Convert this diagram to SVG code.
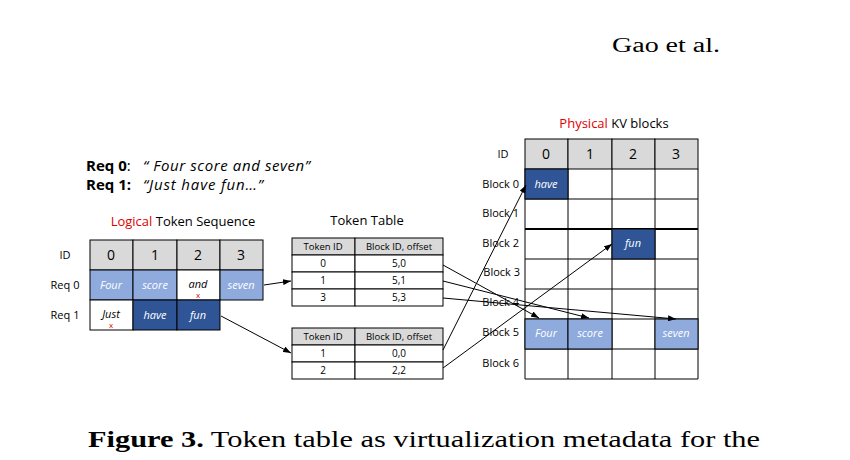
<svg xmlns="http://www.w3.org/2000/svg" width="850" height="460" viewBox="0 0 850 460">
<style>
text{font-family:"Open Sans","DejaVu Sans",sans-serif;fill:#000}
.c{text-anchor:middle}
.s{font-size:11px}.m{font-size:13px}
.it{font-style:italic}
.w{fill:#fff}
.hd{fill:#d9d9d9;stroke:#000;stroke-width:1}
.lb{fill:#8faadc;stroke:#000;stroke-width:1}
.db{fill:#2f5597;stroke:#000;stroke-width:1}
.wc{fill:#fff;stroke:#000;stroke-width:1}
.red{fill:#e00000}
.x{fill:#e00000;font-size:8px;text-anchor:middle}
.ser{font-family:"Liberation Serif","Times New Roman",serif}
.conn line{stroke:#000;stroke-width:1;marker-end:url(#ah)}
</style>
<defs><marker id="ah" markerWidth="8" markerHeight="6" refX="8" refY="3" orient="auto" markerUnits="userSpaceOnUse"><path d="M0,0L8,3L0,6z" fill="#000"/></marker></defs>
<rect width="850" height="460" fill="#fff"/>
<text class="ser" x="612" y="52" font-size="20" textLength="108" lengthAdjust="spacingAndGlyphs">Gao et al.</text>
<g id="title">
<text x="86" y="171" font-size="15" font-weight="bold">Req 0<tspan font-weight="normal">:</tspan></text>
<text x="143" y="171" font-size="15" class="it" textLength="167">“ Four score and seven”</text>
<text x="86" y="190" font-size="15" font-weight="bold">Req 1:</text>
<text x="143" y="190" font-size="15" class="it" textLength="120">“Just have fun…”</text>
</g>
<g id="logical">
<text x="183" y="226" class="c m"><tspan class="red">Logical</tspan> Token Sequence</text>
<text x="65" y="259" class="c s">ID</text>
<text x="65" y="289" class="c s">Req 0</text>
<text x="65" y="319" class="c s">Req 1</text>
<rect class="hd" x="90" y="240" width="43" height="30"/><rect class="hd" x="133" y="240" width="44" height="30"/><rect class="hd" x="177" y="240" width="43" height="30"/><rect class="hd" x="220" y="240" width="43" height="30"/>
<text x="111" y="260" class="c" font-size="14">0</text><text x="155" y="260" class="c" font-size="14">1</text><text x="198" y="260" class="c" font-size="14">2</text><text x="241" y="260" class="c" font-size="14">3</text>
<rect class="lb" x="90" y="270" width="43" height="30"/><rect class="lb" x="133" y="270" width="44" height="30"/><rect class="wc" x="177" y="270" width="43" height="30"/><rect class="lb" x="220" y="270" width="43" height="30"/>
<text x="111" y="289" class="c s it w">Four</text><text x="155" y="289" class="c s it w">score</text><text x="198" y="288" class="c s it">and</text><text x="198" y="298" class="x">x</text><text x="241" y="289" class="c s it w">seven</text>
<rect class="wc" x="90" y="300" width="43" height="30"/><rect class="db" x="133" y="300" width="44" height="30"/><rect class="db" x="177" y="300" width="43" height="30"/>
<text x="111" y="318" class="c s it">Just</text><text x="111" y="328" class="x">x</text><text x="155" y="319" class="c s it w">have</text><text x="198" y="319" class="c s it w">fun</text>
</g>
<g id="tokentable">
<text x="367" y="225" class="c m">Token Table</text>
<rect class="hd" x="292" y="238" width="63" height="17"/><rect class="hd" x="355" y="238" width="88" height="17"/>
<text x="323" y="250" class="c" font-size="9.5">Token ID</text><text x="399" y="250" class="c" font-size="9.5">Block ID, offset</text>
<rect class="wc" x="292" y="255" width="63" height="17"/><rect class="wc" x="355" y="255" width="88" height="17"/>
<rect class="wc" x="292" y="272" width="63" height="17"/><rect class="wc" x="355" y="272" width="88" height="17"/>
<rect class="wc" x="292" y="289" width="63" height="17"/><rect class="wc" x="355" y="289" width="88" height="17"/>
<text x="323" y="267" class="c" font-size="10">0</text><text x="399" y="267" class="c" font-size="10">5,0</text>
<text x="323" y="284" class="c" font-size="10">1</text><text x="399" y="284" class="c" font-size="10">5,1</text>
<text x="323" y="301" class="c" font-size="10">3</text><text x="399" y="301" class="c" font-size="10">5,3</text>
</g>
<g id="tokentable2">
<rect class="hd" x="292" y="328" width="63" height="17"/><rect class="hd" x="355" y="328" width="88" height="17"/>
<text x="323" y="340" class="c" font-size="9.5">Token ID</text><text x="399" y="340" class="c" font-size="9.5">Block ID, offset</text>
<rect class="wc" x="292" y="345" width="63" height="17"/><rect class="wc" x="355" y="345" width="88" height="17"/>
<rect class="wc" x="292" y="362" width="63" height="17"/><rect class="wc" x="355" y="362" width="88" height="17"/>
<text x="323" y="357" class="c" font-size="10">1</text><text x="399" y="357" class="c" font-size="10">0,0</text>
<text x="323" y="374" class="c" font-size="10">2</text><text x="399" y="374" class="c" font-size="10">2,2</text>
</g>
<g id="physical">
<text x="614" y="128" class="c m"><tspan class="red">Physical</tspan> KV blocks</text>
<text x="503" y="158" class="c s">ID</text>
<rect class="hd" x="525" y="139" width="43" height="30"/><rect class="hd" x="568" y="139" width="44" height="30"/><rect class="hd" x="612" y="139" width="43" height="30"/><rect class="hd" x="655" y="139" width="43" height="30"/>
<path d="M525,169V379H698V169M568,169V379M612,169V379M655,169V379M525,199H698M525,229H698M525,259H698M525,289H698M525,319H698M525,349H698" fill="none" stroke="#000"/>
<line x1="525" y1="229" x2="698" y2="229" stroke="#000" stroke-width="2"/>
<text x="546" y="159" class="c" font-size="14">0</text><text x="590" y="159" class="c" font-size="14">1</text><text x="633" y="159" class="c" font-size="14">2</text><text x="676" y="159" class="c" font-size="14">3</text>
<rect class="db" x="525" y="169" width="43" height="30"/><text x="546" y="188" class="c s it w">have</text>
<rect class="db" x="612" y="229" width="43" height="30"/><text x="633" y="247" class="c s it w">fun</text>
<rect class="lb" x="525" y="319" width="43" height="30"/><rect class="lb" x="568" y="319" width="44" height="30"/><rect class="lb" x="655" y="319" width="43" height="30"/>
<text x="546" y="337" class="c s it w">Four</text><text x="590" y="337" class="c s it w">score</text><text x="676" y="337" class="c s it w">seven</text>
<g class="s" text-anchor="end">
<text x="519" y="188">Block 0</text><text x="519" y="217">Block 1</text><text x="519" y="247">Block 2</text><text x="520" y="276">Block 3</text><text x="519" y="306">Block 4</text><text x="519" y="336">Block 5</text><text x="519" y="367">Block 6</text>
</g>
</g>
<g id="connectors" class="conn">
<line x1="264" y1="285" x2="291" y2="281"/>
<line x1="221" y1="316" x2="291" y2="353"/>
<line x1="443" y1="265" x2="539" y2="318"/>
<line x1="443" y1="281" x2="589" y2="318"/>
<line x1="443" y1="298" x2="676" y2="319"/>
<line x1="443" y1="350" x2="526" y2="185"/>
<line x1="443" y1="368" x2="612" y2="244"/>
</g>
<text class="ser" x="88" y="447" font-size="24" textLength="672" lengthAdjust="spacingAndGlyphs"><tspan font-weight="bold">Figure 3.</tspan> Token table as virtualization metadata for the</text>
</svg>
